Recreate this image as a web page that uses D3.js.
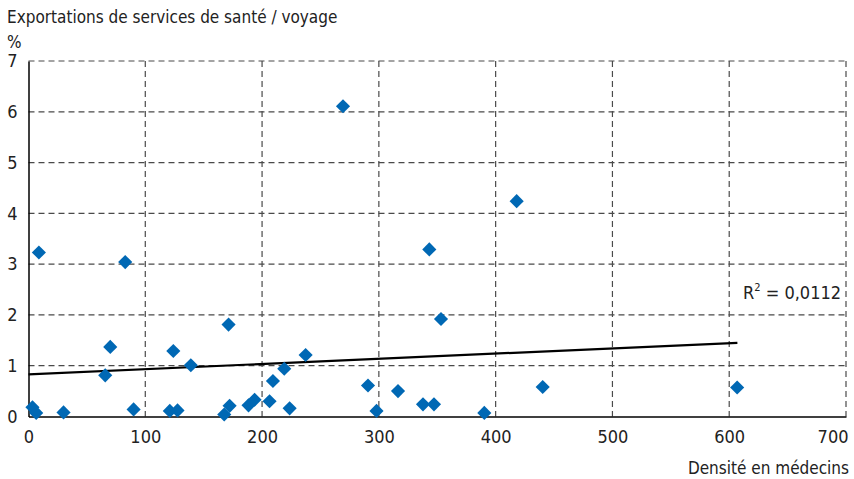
<!DOCTYPE html>
<html>
<head>
<meta charset="utf-8">
<script src="https://cdn.jsdelivr.net/npm/d3@7"></script>
<style>
  html, body { margin: 0; padding: 0; background: #fff; }
  svg { display: block; font-family: "Liberation Sans Narrow", "DejaVu Sans Condensed", "Roboto", sans-serif; }
</style>
</head>
<body>
<svg id="chart" width="854" height="479"></svg>
<script>
// Physician density (x) vs. health-travel service exports (% , y)
const density = [3.4, 6.6, 8.9, 30, 65.7, 70, 82.8, 90, 121, 124, 127.6, 139,
  167.6, 171.3, 172.2, 188.4, 193.6, 206.4, 209.3, 219, 223.6, 237.3, 269.3,
  290.7, 298, 316.4, 337.8, 347.2, 343.2, 353.2, 390.3, 418, 440.3, 606.8];
const exportsShare = [0.18, 0.07, 3.23, 0.08, 0.81, 1.37, 3.04, 0.14, 0.11, 1.29, 0.12, 1.01,
  0.04, 1.81, 0.21, 0.22, 0.33, 0.30, 0.70, 0.94, 0.16, 1.21, 6.11,
  0.61, 0.11, 0.50, 0.24, 0.24, 3.29, 1.92, 0.07, 4.24, 0.58, 0.57];

// Linear trend line end points
const trendX = [0, 607];
const trendY = [0.83, 1.45];

const xTicks = [0, 100, 200, 300, 400, 500, 600, 700];
const yTicks = [0, 1, 2, 3, 4, 5, 6, 7];
const rSquaredLabel = "0,0112";

const svg = d3.select("#chart");
const x = d3.scaleLinear().domain([0, 700]).range([28.5, 846]);
const y = d3.scaleLinear().domain([0, 7]).range([416.5, 61]);

// Dashed grid
const grid = svg.append("g").attr("stroke", "#4a4a4a").attr("stroke-width", 1.2)
  .attr("stroke-dasharray", "6,4").attr("fill", "none");
grid.selectAll("line.h").data(yTicks.filter(d => d > 0)).join("line")
  .attr("class", "h")
  .attr("x1", x(0)).attr("x2", x(700))
  .attr("y1", d => y(d)).attr("y2", d => y(d));
grid.selectAll("line.v").data(xTicks.filter(d => d > 0)).join("line")
  .attr("class", "v")
  .attr("x1", d => x(d)).attr("x2", d => x(d))
  .attr("y1", y(7)).attr("y2", y(0));

// Axes
const xAxis = svg.append("g").attr("transform", `translate(0,${y(0)})`)
  .call(d3.axisBottom(x).tickValues(xTicks).tickSize(0).tickPadding(13).tickFormat(d3.format("d")));
const yAxis = svg.append("g").attr("transform", `translate(${x(0)},0)`)
  .call(d3.axisLeft(y).tickValues(yTicks).tickSize(0).tickPadding(11).tickFormat(d3.format("d")));
[xAxis, yAxis].forEach(g => {
  g.select(".domain").attr("stroke", "#000").attr("stroke-width", 1.5);
  g.selectAll("text").attr("font-size", 18).attr("fill", "#222")
    .attr("font-family", "Liberation Sans Narrow, DejaVu Sans Condensed, sans-serif");
});
xAxis.selectAll("text").attr("dy", "0.75em");
// keep the last label inside the frame
xAxis.selectAll(".tick").filter(d => d === 700).select("text")
  .attr("text-anchor", "end").attr("x", 2);

// Trend line
svg.append("line")
  .attr("x1", x(trendX[0])).attr("y1", y(trendY[0]))
  .attr("x2", x(trendX[1])).attr("y2", y(trendY[1]))
  .attr("stroke", "#000").attr("stroke-width", 2.2);

// Points
const diamond = d3.symbol().type(d3.symbolSquare).size(100);
svg.append("g").selectAll("path").data(density.map((d, i) => [d, exportsShare[i]])).join("path")
  .attr("d", diamond)
  .attr("transform", d => `translate(${x(d[0])},${y(d[1])}) rotate(45)`)
  .attr("fill", "#0068b4");

// Titles
svg.append("text").attr("x", 7).attr("y", 23).attr("font-size", 17).attr("fill", "#222")
  .text("Exportations de services de santé / voyage");
svg.append("text").attr("x", 7).attr("y", 48).attr("font-size", 17).attr("fill", "#222").text("%");
svg.append("text").attr("x", 849).attr("y", 474).attr("text-anchor", "end")
  .attr("font-size", 17).attr("fill", "#222").text("Densité en médecins");

const r2 = svg.append("text").attr("x", 743).attr("y", 299).attr("font-size", 18).attr("fill", "#222");
r2.append("tspan").text("R");
r2.append("tspan").attr("font-size", 11).attr("dy", -8).text("2");
r2.append("tspan").attr("dy", 8).text(" = " + rSquaredLabel);
</script>
</body>
</html>
